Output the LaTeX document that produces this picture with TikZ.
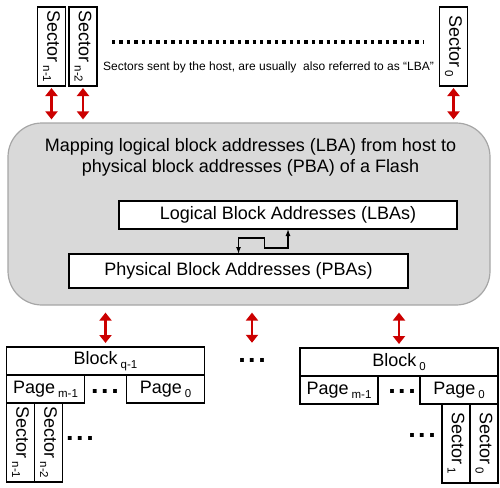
\documentclass[tikz,border=0pt]{standalone}
\usepackage{fontspec}
\setmainfont{Liberation Sans}
\usetikzlibrary{arrows.meta,positioning}
\newcommand{\lowidx}[1]{\,\raisebox{-0.45ex}{\fontsize{11.5}{11.5}\selectfont #1}}

\begin{document}
\begin{tikzpicture}[
    x=1pt, y=-1pt,
    every node/.style={
        inner sep=1pt,
        font=\fontsize{18}{21}\selectfont
    },
    box/.style={draw, line width=1.2pt, fill=white, outer sep=0pt, minimum height=28pt},
    sector/.style={box, rotate=-90, minimum width=79pt},
    page/.style={box, minimum width=78pt},
    blockbox/.style={box, minimum width=198pt},
    dd/.style={font=\bfseries\fontsize{27}{27}\selectfont},
    updown/.style={
        draw=red!80!black, line width=2.6pt,
        {Triangle[width=12pt,length=8pt]}-{Triangle[width=12pt,length=8pt]},
        shorten <=2pt, shorten >=3pt
    },
    link/.style={line width=1.3pt, {Latex[length=7pt,width=5pt]}-{Latex[length=7pt,width=5pt]}}
]
\useasboundingbox (0,0) rectangle (500,487);

\node[sector] (tsec1) at (51.5,46.5) {Sector\lowidx{n-1}};
\node[sector] (tsec2) at (83,46.5) {Sector\lowidx{n-2}};
\node[sector] (tsec0) at (453.5,46.5) {Sector\lowidx{0}};
\draw[line width=3.4pt, dash pattern=on 3.4pt off 4pt] (112,42) -- (424,42);
\node[font=\fontsize{12}{14}\selectfont] (note) at (268.5,67)
    {Sectors sent by the host, are usually\ \ also referred to as ``LBA''};

\node[draw=gray!70, line width=1.2pt, fill=gray!30, rounded corners=34pt,
      minimum width=482pt, minimum height=182pt] (map) at (249,214) {};
\node[align=center] (title) at (250.5,157)
    {Mapping logical block addresses (LBA) from host to\\physical block addresses (PBA) of a Flash};
\node[box, minimum width=338pt] (lba) at (288,215) {Logical Block Addresses (LBAs)};
\node[box, minimum width=339pt, minimum height=34pt] (pba) at (238.5,271) {Physical Block Addresses (PBAs)};
\draw[link] (pba.north) -- ++(0,-16) -| ++(26,10) -| (lba.south);

\foreach \s in {tsec1,tsec2,tsec0}
    \draw[updown] (\s.east) -- (\s.east |- map.north);

\node[blockbox] (blkq) at (105.5,361) {Block\lowidx{q-1}};
\node[page, anchor=north west] (pgqm) at (blkq.south west) {Page\lowidx{m-1}};
\node[page, anchor=north east] (pgq0) at (blkq.south east) {Page\lowidx{0}};
\node[dd] (dq) at (105,391) {.\kern2.5pt.\kern2.5pt.};
\node[sector, anchor=south west] (bsec1) at (pgqm.south west) {Sector\lowidx{n-1}};
\node[sector, anchor=south west] (bsec2) at (bsec1.north west) {Sector\lowidx{n-2}};
\node[dd] (dsq) at (80,438) {.\kern2.5pt.\kern2.5pt.};

\node[dd] (dm) at (252,360) {.\kern2.5pt.\kern2.5pt.};

\node[blockbox] (blk0) at (399,362) {Block\lowidx{0}};
\node[page, anchor=north west] (pg0m) at (blk0.south west) {Page\lowidx{m-1}};
\node[page, anchor=north east] (pg00) at (blk0.south east) {Page\lowidx{0}};
\node[dd] (d0) at (402,391) {.\kern2.5pt.\kern2.5pt.};
\node[sector, anchor=north west] (bsec00) at (pg00.south east) {Sector\lowidx{0}};
\node[sector, anchor=north west] (bsec01) at (bsec00.south west) {Sector\lowidx{1}};
\node[dd] (ds0) at (422,435) {.\kern2.5pt.\kern2.5pt.};

\draw[updown, shorten <=7pt, shorten >=4pt] (map.south -| blkq.north) -- (blkq.north);
\draw[updown, shorten <=7pt, shorten >=4pt] (map.south -| blk0.north) -- (blk0.north);
\draw[updown, shorten <=7pt, shorten >=14pt] (map.south -| dm.north) -- (dm.north);
\end{tikzpicture}
\end{document}
